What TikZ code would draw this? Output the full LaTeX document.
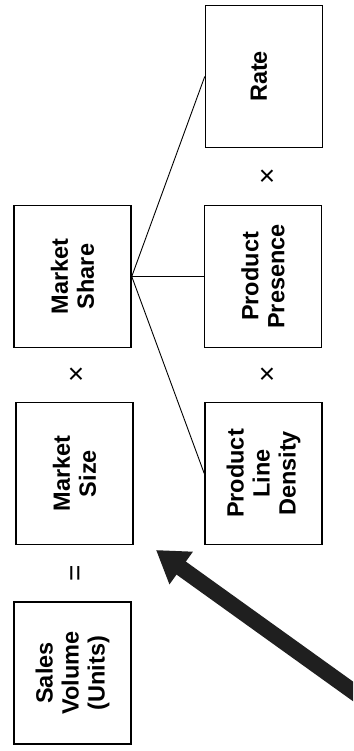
\documentclass[tikz,border=0pt]{standalone}
\usepackage{fontspec}
\setmainfont{Liberation Sans}
\usetikzlibrary{arrows.meta}
\begin{document}
\begin{tikzpicture}[x=1pt,y=-1pt,
  box/.style={draw, line width=1.5pt, minimum width=117pt, minimum height=142pt, inner sep=0pt},
  lbl/.style={rotate=90, align=center, inner sep=0pt, font=\fontsize{23.5}{26}\selectfont\bfseries},
  op/.style={inner sep=0pt, font=\fontsize{28}{28}\selectfont},
  link/.style={line width=0.9pt},
  bigarrow/.style={line width=16pt, color=black!88, -{Triangle[length=31pt,width=38pt]}}]
\useasboundingbox (0,0) rectangle (353,751);
\clip (0,0) rectangle (353,751);
% boxes
\node[box] (sv)   at (72.5,673)   {};
\node[box] (msz)  at (74.5,473.5) {};
\node[box] (msh)  at (72.5,276.5) {};
\node[box] (pld)  at (263.5,473.5) {};
\node[box] (pp)   at (263,276.5)  {};
\node[box] (rate) at (264,76.5)   {};
% labels
\node[lbl] (svl)   at (sv)   {Sales\\Volume\\(Units)};
\node[lbl] (mszl)  at (msz)  {Market\\Size};
\node[lbl] (mshl)  at (msh)  {Market\\Share};
\node[lbl] (pldl)  at (pld)  {Product\\Line\\Density};
\node[lbl] (ppl)   at (pp)   {Product\\Presence};
\node[lbl] (ratel) at (259,76.5) {Rate};
% operators
\node[op, rotate=90] (eq) at (77.5,573) {=};
\node[op] (x1) at (76,376) {×};
\node[op] (x2) at (267,376) {×};
\node[op] (x3) at (267,177.5) {×};
% links
\draw[link] (msh.east) -- (rate.west);
\draw[link] (msh.east) -- (pp.west);
\draw[link] (msh.east) -- (pld.west);
% big arrow
\coordinate (atail) at (372,705);
\coordinate (atip) at (156,550);
\draw[bigarrow] (atail) -- (atip);
\end{tikzpicture}
\end{document}
